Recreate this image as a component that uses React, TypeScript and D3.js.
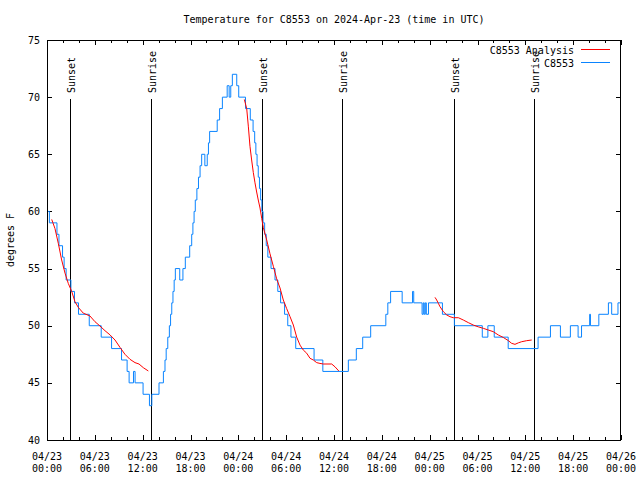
import React from "react";
import * as d3 from "d3";

const TITLE = "Temperature for C8553 on 2024-Apr-23 (time in UTC)";
const Y_LABEL = "degrees F";
const START = Date.UTC(2024, 3, 23, 0, 0);
const END_HOURS = 72;
const Y_TICKS = [40, 45, 50, 55, 60, 65, 70, 75];

// sun events, hours since 04/23 00:00 UTC
const SUN_EVENTS: [number, string][] = [
  [2.92, "Sunset"],
  [13.08, "Sunrise"],
  [27.0, "Sunset"],
  [37.04, "Sunrise"],
  [51.09, "Sunset"],
  [61.12, "Sunrise"],
];

// observed temperatures (hours, °F), change points of a stepped record
const OBS_HOURS = [
  0, 0.3, 1.25, 1.5, 1.95, 2.15, 2.4, 3.0, 3.45, 3.95, 5.3, 6.8, 8.1, 9.35, 10.05, 10.3, 10.85, 11.05,
  12.05, 12.85, 13.15, 14.05, 14.6, 14.8, 14.95, 15.15, 15.35, 15.5, 15.65, 15.8, 15.95, 16.1, 16.65,
  17.05, 17.35, 17.9, 18.15, 18.3, 18.45, 18.6, 18.8, 19.0, 19.2, 19.4, 19.8, 20.1, 20.25, 20.4, 21.35,
  21.65, 22.0, 22.6, 22.85, 23.05, 23.25, 23.8, 24.05, 24.9, 25.5, 25.85, 26.05, 26.2, 26.35, 26.5,
  26.65, 26.8, 26.95, 27.1, 27.3, 27.5, 27.7, 28.1, 28.6, 28.95, 29.3, 29.8, 30.2, 30.6, 31.2, 33.5,
  34.6, 37.8, 38.8, 39.6, 40.6, 42.5, 42.75, 43.1, 44.55, 45.85, 46.0, 47.05, 47.2, 47.32, 47.45, 47.58,
  47.85, 49.6, 51.1, 54.6, 55.3, 56.1, 57.85, 61.6, 63.15, 64.4, 65.65, 66.62, 67.05, 68.07, 68.17,
  69.22, 70.42, 70.83, 71.62, 71.9,
];
const OBS_TEMPS = [
  60, 59, 58, 57, 56, 55, 54, 53, 52, 51, 50, 49, 48, 47, 46, 45, 46, 45,
  44, 43, 44, 45, 46, 47, 48, 49, 50, 51, 52, 53, 54, 55, 54,
  55, 56, 57, 58, 59, 60, 61, 62, 63, 64, 65, 64, 65, 66, 67, 68,
  69, 70, 71, 70, 71, 72, 71, 70, 69, 68, 67, 66, 65, 64, 63,
  62, 61, 60, 59, 58, 57, 56, 55, 54, 53, 52, 51, 50, 49, 48, 47,
  46, 47, 48, 49, 50, 51, 52, 53, 52, 53, 52, 51, 52, 51, 52, 51,
  52, 51, 50, 49, 50, 49, 48, 49, 50, 49, 50, 49, 50, 51, 50,
  51, 52, 51, 52, 52,
];

// analysis segments (hours, °F)
const ANA1_HOURS = [0.59, 1.0, 1.42, 1.84, 2.26, 2.67, 3.1, 3.51, 3.93, 4.55, 5.39, 6.02, 6.65, 7.28, 7.9, 8.53, 9.16, 9.78, 10.41, 11.04, 11.54, 12.08, 12.71];
const ANA1_TEMPS = [59.3, 58.5, 57.2, 55.75, 54.6, 53.7, 53.0, 52.1, 51.6, 51.1, 50.85, 50.35, 49.97, 49.56, 49.2, 48.75, 48.1, 47.5, 47.06, 46.77, 46.65, 46.33, 46.04];
const ANA2_HOURS = [24.75, 25.05, 25.26, 25.46, 25.67, 25.88, 26.09, 26.3, 26.5, 26.72, 26.93, 27.13, 27.56, 27.97, 28.39, 28.81, 29.23, 29.64, 30.06, 30.48, 30.9, 31.32, 31.74, 32.15, 32.57, 32.99, 33.4, 33.83, 34.24, 34.66, 35.71, 36.13, 36.6];
const ANA2_TEMPS = [69.8, 69.0, 67.4, 65.7, 64.5, 63.4, 62.5, 61.7, 61.0, 60.3, 59.4, 58.6, 57.5, 56.3, 55.2, 54.1, 53.3, 52.25, 51.5, 50.8, 50.06, 49.0, 48.3, 47.87, 47.6, 47.15, 47.0, 46.77, 46.7, 46.65, 46.65, 46.4, 46.04];
const ANA3_HOURS = [48.67, 48.88, 49.09, 49.3, 49.72, 50.14, 50.55, 50.97, 51.6, 52.22, 52.85, 53.47, 54.1, 54.73, 55.36, 55.98, 56.61, 57.24, 57.86, 58.28, 58.7, 59.12, 59.54, 60.17, 60.8];
const ANA3_TEMPS = [52.48, 52.25, 51.96, 51.66, 51.23, 50.94, 50.79, 50.7, 50.7, 50.5, 50.27, 50.06, 49.9, 49.77, 49.62, 49.48, 49.19, 48.97, 48.7, 48.46, 48.37, 48.5, 48.6, 48.69, 48.75];

const LEGEND = [
  { label: "C8553 Analysis", color: "#ff0000" },
  { label: "C8553", color: "#0a84ff" },
];

const FONT = "'DejaVu Sans Mono', 'Liberation Mono', monospace";

export default function App() {
  const W = 640, H = 480;
  const L = 47, R = 621, T = 40, B = 440;
  const toDate = (h: number) => new Date(START + h * 3600 * 1000);
  const x = d3.scaleUtc().domain([toDate(0), toDate(END_HOURS)]).range([L, R]);
  const y = d3.scaleLinear().domain([40, 75]).range([B, T]);

  const obs = OBS_HOURS.map((h, i) => [h, OBS_TEMPS[i]] as [number, number]);
  const stepLine = d3.line<[number, number]>()
    .x((d) => x(toDate(d[0])))
    .y((d) => y(d[1]))
    .curve(d3.curveStepAfter);
  const line = d3.line<[number, number]>()
    .x((d) => x(toDate(d[0])))
    .y((d) => y(d[1]));
  const ana = [
    ANA1_HOURS.map((h, i) => [h, ANA1_TEMPS[i]] as [number, number]),
    ANA2_HOURS.map((h, i) => [h, ANA2_TEMPS[i]] as [number, number]),
    ANA3_HOURS.map((h, i) => [h, ANA3_TEMPS[i]] as [number, number]),
  ];

  const minorTicks = d3.range(0, END_HOURS + 0.001, 2).map(toDate);
  const majorTicks = d3.range(0, END_HOURS + 0.001, 6).map(toDate);
  const fmtDay = d3.utcFormat("%m/%d");
  const fmtTime = d3.utcFormat("%H:%M");

  return (
    <svg width={W} height={H} style={{ position: "absolute", left: 0, top: 0, background: "#fff" }}
      fontFamily={FONT} fontSize={10}>
      <rect width={W} height={H} fill="#fff" />
      <text x={(L + R) / 2} y={23} textAnchor="middle">{TITLE}</text>
      <text transform={`translate(14,${(T + B) / 2}) rotate(-90)`} textAnchor="middle">{Y_LABEL}</text>

      <g shapeRendering="crispEdges" stroke="#000">
        {minorTicks.map((d, i) => {
          const isMajor = Math.round((+d - START) / 3600000) % 6 === 0;
          const len = isMajor ? 5 : 3;
          const xx = Math.round(x(d)) + 0.5;
          return (
            <g key={i}>
              <line x1={xx} x2={xx} y1={B} y2={B - len} />
              <line x1={xx} x2={xx} y1={T} y2={T + len} />
            </g>
          );
        })}
        {Y_TICKS.map((v) => {
          const yy = Math.round(y(v)) + 0.5;
          return (
            <g key={v}>
              <line x1={L} x2={L + 5} y1={yy} y2={yy} />
              <line x1={R} x2={R - 5} y1={yy} y2={yy} />
            </g>
          );
        })}
      </g>
      {Y_TICKS.map((v) => (
        <text key={v} x={40} y={y(v)} dy="0.35em" textAnchor="end">{v}</text>
      ))}
      {majorTicks.map((d, i) => (
        <g key={i}>
          <text x={x(d)} y={460} textAnchor="middle">{fmtDay(d)}</text>
          <text x={x(d)} y={472} textAnchor="middle">{fmtTime(d)}</text>
        </g>
      ))}

      {SUN_EVENTS.map(([h, label], i) => {
        const xx = Math.round(x(toDate(h))) + 0.5;
        return (
          <g key={i}>
            <line x1={xx} x2={xx} y1={B} y2={99} stroke="#000" shapeRendering="crispEdges" />
            <text transform={`translate(${xx + 4},93) rotate(-90)`} textAnchor="start">{label}</text>
          </g>
        );
      })}

      <path d={stepLine(obs) || ""} fill="none" stroke={LEGEND[1].color} strokeWidth={1} />
      {ana.map((seg, i) => (
        <path key={i} d={line(seg) || ""} fill="none" stroke={LEGEND[0].color} strokeWidth={1} />
      ))}

      {LEGEND.map((l, i) => (
        <g key={l.label}>
          <text x={574} y={50 + i * 13} dy="0.35em" textAnchor="end">{l.label}</text>
          <line x1={581} x2={610} y1={49.5 + i * 13} y2={49.5 + i * 13} stroke={l.color} strokeWidth={1} />
        </g>
      ))}

      <rect x={L + 0.5} y={T + 0.5} width={R - L - 1} height={B - T} fill="none" stroke="#000" shapeRendering="crispEdges" />
    </svg>
  );
}
